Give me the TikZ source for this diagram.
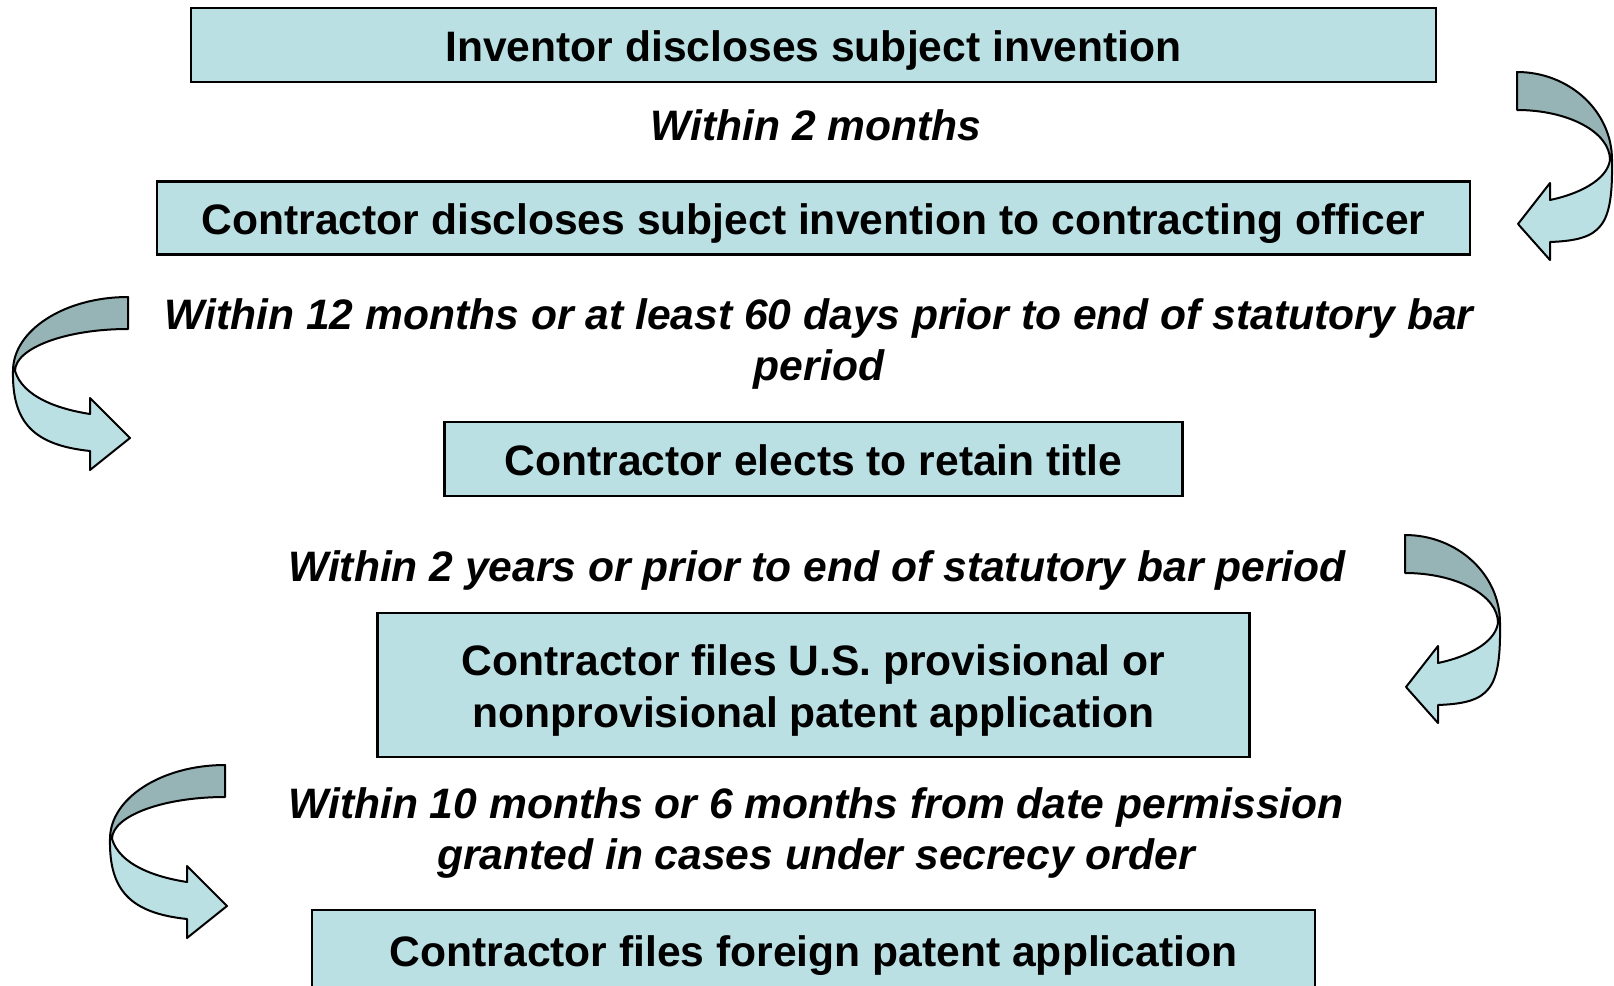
\documentclass[tikz,border=0pt]{standalone}
\usepackage{fontspec}
\setmainfont{Liberation Sans}

\definecolor{boxfill}{HTML}{BBE0E3}
\definecolor{backfill}{HTML}{96B3B6}

\tikzset{
  stage/.style={draw=black, line width=2.5pt, fill=boxfill, inner sep=0pt, align=center,
    text height=35pt, text depth=3pt,
    font=\fontsize{42.6}{52}\selectfont\bfseries},
  waitnote/.style={inner sep=0pt, align=center,
    font=\fontsize{42.6}{51.5}\selectfont\bfseries\itshape},
  ribbon/.style={draw=black, line width=2pt, line join=round},
  % curled arrow on the right side, origin = top left of the tail
  pics/curlright/.style={code={
    \draw[ribbon, fill=backfill] (0,0) .. controls (52,0) and (95,39) .. (95,88)
      -- (93,88) .. controls (93,60) and (51,38) .. (0,38) -- cycle;
    \draw[ribbon, fill=boxfill] (95,88) .. controls (96,155) and (85,168) .. (33,170)
      -- (33,188) -- (1,152) -- (33,111) -- (33,128)
      .. controls (62,122) and (90,108) .. (93,88) -- cycle;
  }},
  % curled arrow on the left side, origin = top right of the tail
  pics/curlleft/.style={code={
    \draw[ribbon, fill=backfill] (0,0) .. controls (-63,0) and (-115,33) .. (-115,74)
      -- (-113,74) .. controls (-113,51) and (-62,32) .. (0,32) -- cycle;
    \draw[ribbon, fill=boxfill] (-115,74) .. controls (-116,125) and (-95,148) .. (-38,154)
      -- (-38,173) -- (2,141) -- (-38,101) -- (-38,117)
      .. controls (-70,112) and (-105,100) .. (-113,74) -- cycle;
  }}
}

\begin{document}
\begin{tikzpicture}[x=1pt, y=-1pt]
  \useasboundingbox (0,0) rectangle (1614,985);
  \clip (0,0) rectangle (1614,985);

  % steps
  \node[stage, minimum width=1245pt, minimum height=74pt] (inventor) at (813.5,45)
    {Inventor discloses subject invention};
  \node[stage, minimum width=1313pt, minimum height=73pt] (disclose) at (813.5,218)
    {Contractor discloses subject invention to contracting officer};
  \node[stage, minimum width=738pt, minimum height=74pt] (elect) at (813.5,459)
    {Contractor elects to retain title};
  \node[stage, minimum width=872pt, minimum height=144pt, text height=87pt] (usfile) at (813.5,685)
    {Contractor files U.S. provisional or\\nonprovisional patent application};
  \node[stage, minimum width=1003pt, minimum height=80pt] (foreign) at (813.5,950)
    {Contractor files foreign patent application};

  % time limits
  \node[waitnote] (twomonths) at (816,125) {Within 2 months};
  \node[waitnote] (twelvemonths) at (819,344)
    {Within 12 months or at least 60 days prior to end of statutory bar\\period};
  \node[waitnote] (twoyears) at (817,570)
    {Within 2 years or prior to end of statutory bar period};
  \node[waitnote] (tenmonths) at (816,833)
    {Within 10 months or 6 months from date permission\\granted in cases under secrecy order};

  % curled arrows
  \pic at (1517,72) {curlright};
  \pic at (128,297) {curlleft};
  \pic at (1405,535) {curlright};
  \pic at (225,765) {curlleft};
\end{tikzpicture}
\end{document}
